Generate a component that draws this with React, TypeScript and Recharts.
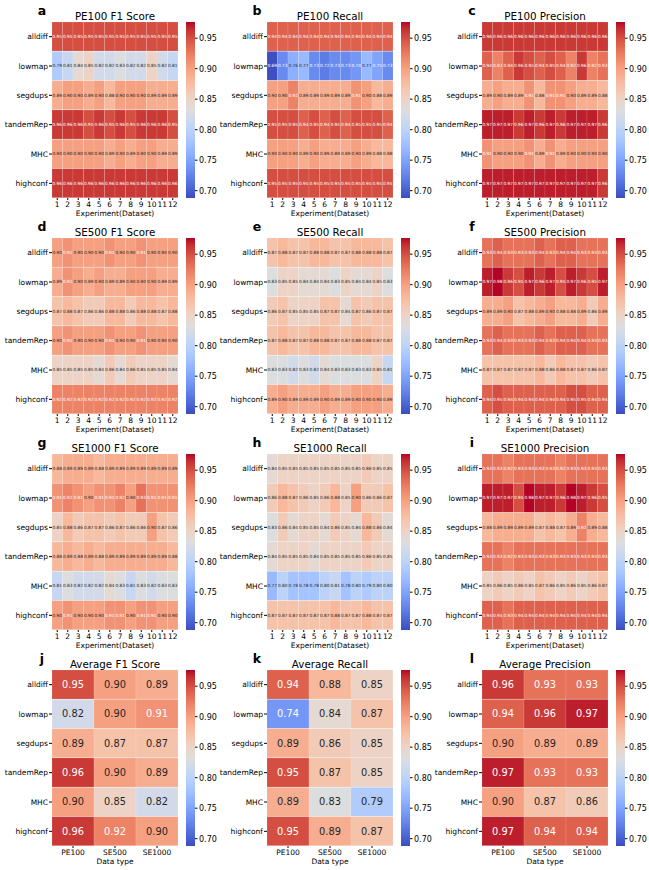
import React from 'react';
import { Bar, BarChart, XAxis, YAxis } from 'recharts';

const FONT = '"DejaVu Sans", sans-serif';

const ROW_LABELS = ['alldiff', 'lowmap', 'segdups', 'tandemRep', 'MHC', 'highconf'];
const EXPERIMENTS = ['1', '2', '3', '4', '5', '6', '7', '8', '9', '10', '11', '12'];
const DATA_TYPES = ['PE100', 'SE500', 'SE1000'];
const CB_TICKS = [0.7, 0.75, 0.8, 0.85, 0.9, 0.95];
const VMIN = 0.688;
const VMAX = 0.9765;

const pe100F1 = [
  [0.95, 0.95, 0.95, 0.95, 0.95, 0.95, 0.95, 0.95, 0.95, 0.95, 0.95, 0.95],
  [0.79, 0.81, 0.84, 0.85, 0.82, 0.82, 0.83, 0.82, 0.82, 0.85, 0.82, 0.81],
  [0.89, 0.9, 0.9, 0.89, 0.9, 0.88, 0.9, 0.9, 0.9, 0.89, 0.89, 0.89],
  [0.96, 0.96, 0.96, 0.95, 0.96, 0.95, 0.96, 0.95, 0.96, 0.96, 0.96, 0.95],
  [0.9, 0.9, 0.9, 0.9, 0.9, 0.89, 0.9, 0.89, 0.9, 0.9, 0.89, 0.89],
  [0.96, 0.96, 0.96, 0.96, 0.96, 0.96, 0.96, 0.96, 0.96, 0.96, 0.96, 0.96],
];
const pe100Recall = [
  [0.94, 0.94, 0.94, 0.94, 0.94, 0.94, 0.94, 0.94, 0.94, 0.94, 0.94, 0.94],
  [0.69, 0.73, 0.76, 0.77, 0.73, 0.72, 0.73, 0.73, 0.74, 0.77, 0.75, 0.73],
  [0.9, 0.9, 0.92, 0.89, 0.89, 0.89, 0.89, 0.89, 0.91, 0.9, 0.88, 0.89],
  [0.95, 0.95, 0.95, 0.94, 0.95, 0.94, 0.95, 0.94, 0.95, 0.95, 0.95, 0.94],
  [0.9, 0.9, 0.9, 0.89, 0.9, 0.89, 0.89, 0.89, 0.9, 0.89, 0.88, 0.88],
  [0.95, 0.95, 0.95, 0.95, 0.95, 0.95, 0.95, 0.95, 0.95, 0.95, 0.95, 0.95],
];
const pe100Precision = [
  [0.96, 0.96, 0.96, 0.96, 0.96, 0.96, 0.96, 0.96, 0.96, 0.96, 0.96, 0.96],
  [0.94, 0.92, 0.94, 0.96, 0.95, 0.94, 0.95, 0.94, 0.92, 0.96, 0.92, 0.93],
  [0.89, 0.9, 0.89, 0.89, 0.91, 0.88, 0.91, 0.91, 0.9, 0.89, 0.89, 0.88],
  [0.97, 0.97, 0.97, 0.96, 0.97, 0.96, 0.97, 0.96, 0.97, 0.97, 0.97, 0.96],
  [0.91, 0.9, 0.9, 0.9, 0.91, 0.89, 0.91, 0.89, 0.9, 0.9, 0.9, 0.9],
  [0.97, 0.97, 0.97, 0.97, 0.97, 0.97, 0.97, 0.97, 0.97, 0.97, 0.97, 0.96],
];
const se500F1 = [
  [0.9, 0.91, 0.9, 0.9, 0.9, 0.91, 0.9, 0.9, 0.91, 0.9, 0.9, 0.9],
  [0.89, 0.91, 0.9, 0.89, 0.9, 0.89, 0.89, 0.9, 0.9, 0.9, 0.89, 0.89],
  [0.87, 0.88, 0.87, 0.86, 0.86, 0.88, 0.88, 0.86, 0.88, 0.88, 0.87, 0.88],
  [0.9, 0.91, 0.9, 0.9, 0.9, 0.91, 0.9, 0.9, 0.91, 0.9, 0.9, 0.9],
  [0.85, 0.85, 0.85, 0.85, 0.84, 0.86, 0.84, 0.86, 0.85, 0.85, 0.85, 0.84],
  [0.92, 0.92, 0.92, 0.92, 0.92, 0.92, 0.92, 0.92, 0.92, 0.92, 0.92, 0.92],
];
const se500Recall = [
  [0.87, 0.88, 0.87, 0.87, 0.88, 0.88, 0.87, 0.87, 0.88, 0.88, 0.88, 0.87],
  [0.83, 0.85, 0.85, 0.84, 0.84, 0.84, 0.83, 0.85, 0.84, 0.84, 0.85, 0.83],
  [0.86, 0.87, 0.85, 0.85, 0.85, 0.87, 0.87, 0.84, 0.87, 0.86, 0.87, 0.87],
  [0.87, 0.88, 0.87, 0.87, 0.88, 0.88, 0.87, 0.87, 0.88, 0.88, 0.87, 0.87],
  [0.83, 0.83, 0.82, 0.83, 0.82, 0.84, 0.83, 0.83, 0.83, 0.83, 0.85, 0.81],
  [0.89, 0.9, 0.89, 0.89, 0.89, 0.9, 0.89, 0.89, 0.9, 0.9, 0.9, 0.89],
];
const se500Precision = [
  [0.93, 0.94, 0.93, 0.93, 0.93, 0.94, 0.93, 0.94, 0.94, 0.93, 0.93, 0.93],
  [0.97, 0.98, 0.96, 0.95, 0.97, 0.96, 0.97, 0.95, 0.97, 0.96, 0.95, 0.97],
  [0.89, 0.89, 0.9, 0.87, 0.88, 0.89, 0.9, 0.88, 0.88, 0.89, 0.86, 0.89],
  [0.93, 0.94, 0.93, 0.93, 0.93, 0.94, 0.93, 0.94, 0.94, 0.94, 0.93, 0.93],
  [0.87, 0.87, 0.87, 0.87, 0.87, 0.88, 0.86, 0.88, 0.87, 0.87, 0.86, 0.87],
  [0.94, 0.95, 0.94, 0.94, 0.94, 0.94, 0.94, 0.94, 0.95, 0.95, 0.94, 0.94],
];
const se1000F1 = [
  [0.88, 0.89, 0.89, 0.89, 0.88, 0.89, 0.89, 0.89, 0.89, 0.89, 0.89, 0.89],
  [0.91, 0.92, 0.91, 0.9, 0.91, 0.91, 0.92, 0.9, 0.93, 0.91, 0.91, 0.91],
  [0.85, 0.88, 0.86, 0.87, 0.87, 0.86, 0.87, 0.86, 0.86, 0.9, 0.87, 0.86],
  [0.88, 0.89, 0.88, 0.89, 0.88, 0.89, 0.89, 0.89, 0.89, 0.89, 0.89, 0.88],
  [0.81, 0.83, 0.82, 0.82, 0.82, 0.84, 0.83, 0.81, 0.83, 0.82, 0.83, 0.83],
  [0.9, 0.91, 0.9, 0.9, 0.9, 0.91, 0.91, 0.9, 0.91, 0.91, 0.9, 0.9],
];
const se1000Recall = [
  [0.84, 0.85, 0.85, 0.85, 0.85, 0.85, 0.85, 0.85, 0.85, 0.86, 0.85, 0.85],
  [0.86, 0.88, 0.87, 0.86, 0.85, 0.86, 0.88, 0.85, 0.9, 0.86, 0.86, 0.87],
  [0.83, 0.86, 0.84, 0.85, 0.85, 0.84, 0.86, 0.85, 0.84, 0.88, 0.86, 0.84],
  [0.84, 0.85, 0.85, 0.85, 0.84, 0.85, 0.85, 0.85, 0.85, 0.86, 0.85, 0.85],
  [0.77, 0.8, 0.78, 0.78, 0.78, 0.8, 0.81, 0.78, 0.8, 0.79, 0.8, 0.8],
  [0.87, 0.87, 0.87, 0.87, 0.87, 0.87, 0.88, 0.87, 0.87, 0.88, 0.87, 0.87],
];
const se1000Precision = [
  [0.93, 0.93, 0.92, 0.93, 0.93, 0.93, 0.93, 0.92, 0.93, 0.93, 0.93, 0.93],
  [0.97, 0.97, 0.97, 0.95, 0.98, 0.97, 0.97, 0.96, 0.98, 0.97, 0.96, 0.95],
  [0.88, 0.89, 0.89, 0.89, 0.89, 0.87, 0.88, 0.87, 0.89, 0.92, 0.89, 0.88],
  [0.93, 0.93, 0.92, 0.93, 0.93, 0.93, 0.93, 0.93, 0.93, 0.93, 0.93, 0.93],
  [0.85, 0.86, 0.85, 0.86, 0.85, 0.87, 0.86, 0.85, 0.86, 0.85, 0.86, 0.87],
  [0.94, 0.94, 0.93, 0.94, 0.94, 0.94, 0.94, 0.94, 0.94, 0.94, 0.94, 0.94],
];
const avgF1 = [
  [0.95, 0.9, 0.89],
  [0.82, 0.9, 0.91],
  [0.89, 0.87, 0.87],
  [0.96, 0.9, 0.89],
  [0.9, 0.85, 0.82],
  [0.96, 0.92, 0.9],
];
const avgRecall = [
  [0.94, 0.88, 0.85],
  [0.74, 0.84, 0.87],
  [0.89, 0.86, 0.85],
  [0.95, 0.87, 0.85],
  [0.89, 0.83, 0.79],
  [0.95, 0.89, 0.87],
];
const avgPrecision = [
  [0.96, 0.93, 0.93],
  [0.94, 0.96, 0.97],
  [0.9, 0.89, 0.89],
  [0.97, 0.93, 0.93],
  [0.9, 0.87, 0.86],
  [0.97, 0.94, 0.94],
];

// matplotlib coolwarm, 33 samples
const COOLWARM = [
  [59, 76, 192], [68, 90, 204], [77, 104, 215], [87, 117, 225], [98, 130, 234],
  [108, 142, 241], [119, 154, 247], [130, 165, 251], [141, 176, 254], [152, 185, 255],
  [163, 194, 255], [174, 201, 253], [184, 208, 249], [194, 213, 244], [204, 217, 238],
  [213, 219, 230], [221, 221, 221], [229, 216, 209], [236, 211, 197], [241, 204, 184],
  [245, 196, 172], [247, 187, 160], [247, 177, 148], [247, 166, 135], [244, 154, 123],
  [241, 141, 111], [236, 127, 99], [229, 112, 88], [222, 96, 77], [213, 80, 66],
  [203, 62, 56], [192, 40, 47], [180, 4, 38],
];

function coolwarm(t: number) {
  const c = Math.max(0, Math.min(1, t)) * (COOLWARM.length - 1);
  const i = Math.min(COOLWARM.length - 2, Math.floor(c));
  const f = c - i;
  return COOLWARM[i].map((a, k) => a + (COOLWARM[i + 1][k] - a) * f);
}
const rgb = (c: number[]) => `rgb(${c.map((v) => Math.round(v)).join(',')})`;
const colorFor = (v: number) => coolwarm((v - VMIN) / (VMAX - VMIN));
function textColor(c: number[]) {
  const lin = c.map((v) => {
    const s = v / 255;
    return s <= 0.03928 ? s / 12.92 : Math.pow((s + 0.055) / 1.055, 2.4);
  });
  const lum = lin[0] * 0.2126 + lin[1] * 0.7152 + lin[2] * 0.0722;
  return lum > 0.408 ? '#262626' : '#ffffff';
}

const COL_X = [52, 267, 482];
const ROW_Y = [22, 238, 454, 670];
const HEAT_W = 126;
const HEAT_H = 176;
const Y_AXIS_W = 52;
const X_AXIS_H = 20;

type Panel = {
  letter: string;
  title: string;
  values: number[][];
  cols: string[];
  xLabel: string;
  col: number;
  row: number;
};

const PANELS: Panel[] = [
  { letter: 'a', title: 'PE100 F1 Score', values: pe100F1, cols: EXPERIMENTS, xLabel: 'Experiment(Dataset)', col: 0, row: 0 },
  { letter: 'b', title: 'PE100 Recall', values: pe100Recall, cols: EXPERIMENTS, xLabel: 'Experiment(Dataset)', col: 1, row: 0 },
  { letter: 'c', title: 'PE100 Precision', values: pe100Precision, cols: EXPERIMENTS, xLabel: 'Experiment(Dataset)', col: 2, row: 0 },
  { letter: 'd', title: 'SE500 F1 Score', values: se500F1, cols: EXPERIMENTS, xLabel: 'Experiment(Dataset)', col: 0, row: 1 },
  { letter: 'e', title: 'SE500 Recall', values: se500Recall, cols: EXPERIMENTS, xLabel: 'Experiment(Dataset)', col: 1, row: 1 },
  { letter: 'f', title: 'SE500 Precision', values: se500Precision, cols: EXPERIMENTS, xLabel: 'Experiment(Dataset)', col: 2, row: 1 },
  { letter: 'g', title: 'SE1000 F1 Score', values: se1000F1, cols: EXPERIMENTS, xLabel: 'Experiment(Dataset)', col: 0, row: 2 },
  { letter: 'h', title: 'SE1000 Recall', values: se1000Recall, cols: EXPERIMENTS, xLabel: 'Experiment(Dataset)', col: 1, row: 2 },
  { letter: 'i', title: 'SE1000 Precision', values: se1000Precision, cols: EXPERIMENTS, xLabel: 'Experiment(Dataset)', col: 2, row: 2 },
  { letter: 'j', title: 'Average F1 Score', values: avgF1, cols: DATA_TYPES, xLabel: 'Data type', col: 0, row: 3 },
  { letter: 'k', title: 'Average Recall', values: avgRecall, cols: DATA_TYPES, xLabel: 'Data type', col: 1, row: 3 },
  { letter: 'l', title: 'Average Precision', values: avgPrecision, cols: DATA_TYPES, xLabel: 'Data type', col: 2, row: 3 },
];

const cellRect = (ci: number) => (p: any) => {
  const v = p.payload[`v${ci}`];
  return (
    <rect x={p.x} y={p.y} width={p.width} height={p.height} fill={rgb(colorFor(v))} stroke="rgba(255,255,255,0.3)" strokeWidth={0.4} />
  );
};

const cellText = (ci: number, fontSize: number) => (p: any) => {
  const v = p.payload[`v${ci}`];
  return (
    <text
      x={p.x + p.width / 2}
      y={p.y + p.height / 2}
      textAnchor="middle"
      dominantBaseline="central"
      fontSize={fontSize}
      fontFamily={FONT}
      fill={textColor(colorFor(v))}
    >
      {v.toFixed(2)}
    </text>
  );
};

function Colorbar({ id, left, top }: { id: string; left: number; top: number }) {
  const last = COOLWARM.length - 1;
  return (
    <div style={{ position: 'absolute', left, top }}>
      <BarChart width={40} height={HEAT_H} data={[{ name: 'cb', range: [VMIN, VMAX] }]} margin={{ top: 0, right: 0, bottom: 0, left: 0 }} barCategoryGap={0}>
        <defs>
          <linearGradient id={id} x1="0" y1="0" x2="0" y2="1">
            {COOLWARM.map((_, i) => (
              <stop key={i} offset={i / last} stopColor={rgb(COOLWARM[last - i])} />
            ))}
          </linearGradient>
        </defs>
        <XAxis dataKey="name" hide />
        <YAxis
          orientation="right"
          type="number"
          domain={[VMIN, VMAX]}
          allowDataOverflow
          ticks={CB_TICKS}
          interval={0}
          width={31}
          axisLine={false}
          tickSize={2.5}
          tickMargin={1.5}
          stroke="#000"
          tick={{ fontSize: 8, fill: '#000', fontFamily: FONT }}
          tickFormatter={(v: number) => v.toFixed(2)}
        />
        <Bar dataKey="range" fill={`url(#${id})`} isAnimationActive={false} />
      </BarChart>
    </div>
  );
}

function HeatChart({ p, data, textLayer }: { p: Panel; data: any[]; textLayer: boolean }) {
  const n = p.cols.length;
  const annot = n > 5 ? 4.3 : 9.8;
  const tickStyle = { fontSize: 7.5, fill: '#000', fontFamily: FONT };
  return (
    <BarChart
      width={Y_AXIS_W + HEAT_W}
      height={HEAT_H + X_AXIS_H}
      data={data}
      layout="vertical"
      margin={{ top: 0, right: 0, bottom: 0, left: 0 }}
      barCategoryGap={0}
      barGap={0}
    >
      <XAxis
        type="number"
        domain={[0, n]}
        ticks={p.cols.map((_, i) => i + 0.5)}
        interval={0}
        tickFormatter={(v: number) => p.cols[Math.round(v - 0.5)]}
        height={X_AXIS_H}
        axisLine={false}
        tickLine={!textLayer}
        tick={textLayer ? false : tickStyle}
        tickSize={2}
        tickMargin={1.5}
        stroke="#000"
      />
      <YAxis
        type="category"
        dataKey="row"
        width={Y_AXIS_W}
        interval={0}
        axisLine={false}
        tickLine={!textLayer}
        tick={textLayer ? false : tickStyle}
        tickSize={3}
        tickMargin={1}
        stroke="#000"
      />
      {p.cols.map((_, ci) => (
        <Bar
          key={ci}
          dataKey={`u${ci}`}
          stackId="s"
          isAnimationActive={false}
          shape={textLayer ? cellText(ci, annot) : cellRect(ci)}
        />
      ))}
    </BarChart>
  );
}

function Heatmap({ p }: { p: Panel }) {
  const left = COL_X[p.col];
  const top = ROW_Y[p.row];
  const data = ROW_LABELS.map((r, ri) => {
    const o: any = { row: r };
    p.cols.forEach((_, ci) => {
      o[`u${ci}`] = 1;
      o[`v${ci}`] = p.values[ri][ci];
    });
    return o;
  });
  return (
    <>
      <div
        style={{
          position: 'absolute',
          left,
          top: top - 13,
          width: HEAT_W,
          height: 14,
          lineHeight: '14px',
          textAlign: 'center',
          fontSize: 10.3,
          whiteSpace: 'nowrap',
        }}
      >
        {p.title}
      </div>
      <div
        style={{
          position: 'absolute',
          left: left - 20,
          top: top - 19,
          width: 20,
          height: 16,
          lineHeight: '16px',
          textAlign: 'center',
          fontWeight: 'bold',
          fontSize: 12.5,
        }}
      >
        {p.letter}
      </div>
      <div style={{ position: 'absolute', left: left - Y_AXIS_W, top }}>
        <HeatChart p={p} data={data} textLayer={false} />
      </div>
      <div style={{ position: 'absolute', left: left - Y_AXIS_W, top }}>
        <HeatChart p={p} data={data} textLayer />
      </div>
      <div
        style={{
          position: 'absolute',
          left: left - 20,
          top: top + HEAT_H + 11,
          width: HEAT_W + 40,
          height: 10,
          lineHeight: '10px',
          textAlign: 'center',
          fontSize: 7.5,
          whiteSpace: 'nowrap',
        }}
      >
        {p.xLabel}
      </div>
      <Colorbar id={`cw-${p.letter}`} left={left + 134} top={top} />
    </>
  );
}

export default function App() {
  return (
    <div style={{ position: 'absolute', left: 0, top: 0, width: 649, height: 870, background: '#fff', fontFamily: FONT }}>
      {PANELS.map((p) => (
        <Heatmap key={p.letter} p={p} />
      ))}
    </div>
  );
}
